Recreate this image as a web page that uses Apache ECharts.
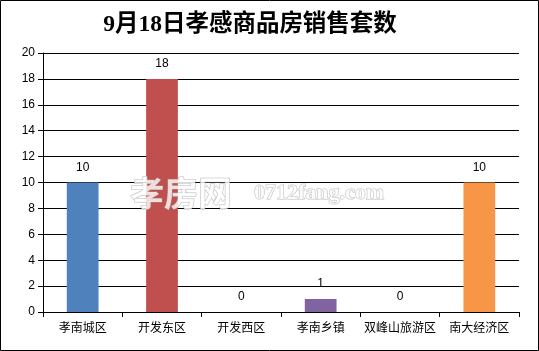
<!DOCTYPE html>
<html><head><meta charset="utf-8">
<script src="https://cdn.jsdelivr.net/npm/echarts@6/dist/echarts.min.js"></script>
<style>html,body{margin:0;padding:0;background:#fff}#c{width:539px;height:351px}</style>
</head><body><div id="c"></div>
<script>
const categories = ['孝南城区','开发东区','开发西区','孝南乡镇','双峰山旅游区','南大经济区'];
const values = [10, 18, 0, 1, 0, 10];
const barColors = ['#4F81BD','#C0504D','#9BBB59','#8064A2','#4BACC6','#F79646'];
const titleText = '9月18日孝感商品房销售套数';

const chart = echarts.init(document.getElementById('c'), null, {renderer:'canvas'});
chart.setOption({
  animation:false,
  backgroundColor:'#fff',
  title:{text:titleText,top:8,left:245,textAlign:'center',
    textStyle:{fontSize:23.5,fontWeight:'bold',color:'#000',fontFamily:'"Liberation Serif","Noto Sans CJK SC",serif'}},
  grid:{left:43,right:20,top:53,bottom:39,containLabel:false},
  xAxis:{type:'category',data:categories,
    axisLine:{lineStyle:{color:'#000',width:1}},
    axisTick:{show:true,length:5,lineStyle:{color:'#000'}},
    axisLabel:{interval:0,color:'#000',fontSize:12,margin:9,fontFamily:'"Noto Sans CJK SC",sans-serif'}},
  yAxis:{type:'value',min:0,max:20,interval:2,
    axisLine:{show:true,lineStyle:{color:'#000'}},
    axisTick:{show:true,length:5,lineStyle:{color:'#000'}},
    splitLine:{lineStyle:{color:'#000',width:1}},
    axisLabel:{color:'#000',fontSize:12,margin:8,fontFamily:'"Liberation Sans",sans-serif'}},
  series:[{type:'bar',barWidth:'40%',
    data:values.map((v,i)=>({value:v,itemStyle:{color:barColors[i]}})),
    label:{show:true,position:'top',distance:9,color:'#000',fontSize:12,fontFamily:'"Liberation Sans",sans-serif'}}],
  graphic:[
    {type:'rect',z:200,silent:true,shape:{x:0.5,y:0.5,width:538,height:350},style:{fill:null,stroke:'#000',lineWidth:1}},
    {type:'text',x:130,y:176,z:100,style:{text:'孝房网',font:'bold 34px "Noto Sans CJK SC"',fill:'rgba(255,255,255,0.8)',stroke:'rgba(160,160,160,0.7)',lineWidth:1}},
    {type:'text',x:254,y:182,z:100,style:{text:'0712fang.com',font:'bold 22px "Liberation Serif"',fill:'rgba(255,255,255,0.8)',stroke:'rgba(160,160,160,0.7)',lineWidth:1}}
  ]
});
</script></body></html>
